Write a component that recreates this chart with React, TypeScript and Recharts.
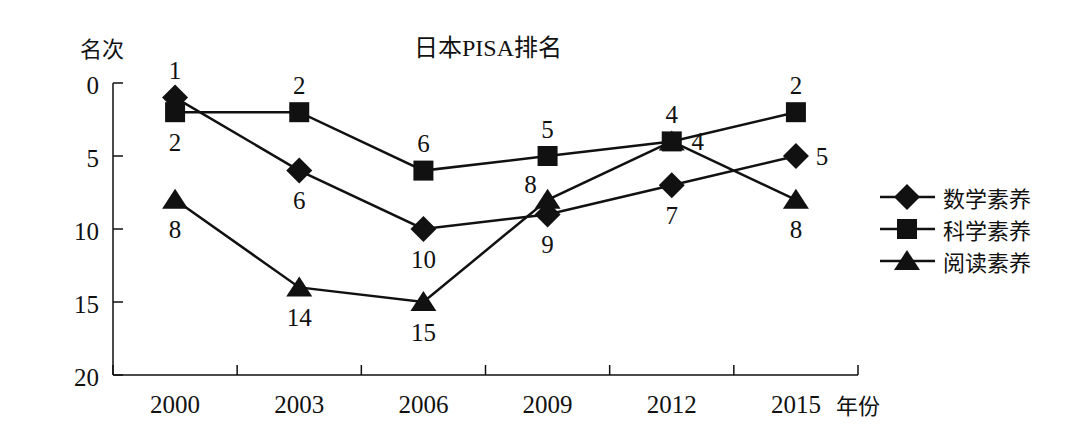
import { LineChart, Line, XAxis, YAxis, LabelList } from "recharts"

const years = ["2000", "2003", "2006", "2009", "2012", "2015"]
const mathRank = [1, 6, 10, 9, 7, 5]
const scienceRank = [2, 2, 6, 5, 4, 2]
const readingRank = [8, 14, 15, 8, 4, 8]
const rankTicks = [0, 5, 10, 15, 20]
const seriesNames = ["数学素养", "科学素养", "阅读素养"]

// where each value label sits relative to its point
const mathLabelPos = ["top", "bottom", "bottom", "bottom", "bottom", "right"]
const scienceLabelPos = ["bottom", "top", "top", "top", "top", "top"]
const readingLabelPos = ["bottom", "bottom", "bottom", "topleft", "right", "bottom"]

const data = years.map((year, i) => ({
  idx: i,
  year,
  math: mathRank[i],
  science: scienceRank[i],
  reading: readingRank[i],
}))

// category centres get labels, half steps get the tick marks between them
const xTicks = years.flatMap((_, i) => [i - 0.5, i]).concat(years.length - 0.5)

const INK = "#111"
const FONT = '"Liberation Serif", "Noto Sans CJK SC", serif'
const CJK = '"Noto Sans CJK SC", sans-serif'

const offsets: Record<string, [number, number]> = {
  top: [0, -27],
  bottom: [0, 30],
  right: [26, 0],
  topleft: [-17, -15],
}

function Diamond({ cx, cy }: any) {
  if (cx == null || cy == null) return null
  return <polygon points={`${cx},${cy - 13} ${cx + 13},${cy} ${cx},${cy + 13} ${cx - 13},${cy}`} fill={INK} />
}

function Square({ cx, cy }: any) {
  if (cx == null || cy == null) return null
  return <rect x={cx - 10} y={cy - 10} width={20} height={20} fill={INK} />
}

function Triangle({ cx, cy }: any) {
  if (cx == null || cy == null) return null
  return <polygon points={`${cx},${cy - 11} ${cx + 13},${cy + 9} ${cx - 13},${cy + 9}`} fill={INK} />
}

const numStyle = { fontFamily: FONT, fontSize: 25 }

const makeLabel = (positions: string[]) => (props: any) => {
  const { x, y, value, index } = props
  const [dx, dy] = offsets[positions[index]] || [0, -26]
  return (
    <text x={x + dx} y={y + dy} textAnchor="middle" dominantBaseline="central" style={numStyle} fill={INK}>
      {value}
    </text>
  )
}

function XTick({ x, y, payload }: any) {
  const v = payload.value
  if (Number.isInteger(v)) {
    return (
      <text x={x} y={y + 29} textAnchor="middle" dominantBaseline="central" style={numStyle} fill={INK}>
        {years[v]}
      </text>
    )
  }
  return <line x1={x} x2={x} y1={y} y2={y - 10} stroke={INK} strokeWidth={1.5} />
}

function YTick({ x, y, payload }: any) {
  return (
    <g>
      <line x1={x} x2={x + 10} y1={y} y2={y} stroke={INK} strokeWidth={1.5} />
      <text x={x - 14} y={y + 2} textAnchor="end" dominantBaseline="central" style={numStyle} fill={INK}>
        {payload.value}
      </text>
    </g>
  )
}

const markers = [Diamond, Square, Triangle]

function LegendBox() {
  return (
    <svg width={200} height={110} style={{ position: "absolute", left: 870, top: 170 }}>
      {seriesNames.map((name, i) => {
        const Marker = markers[i]
        const cy = 27 + i * 32
        return (
          <g key={name}>
            <line x1={10} x2={65} y1={cy} y2={cy} stroke={INK} strokeWidth={2.5} />
            <Marker cx={37} cy={cy} />
            <text x={73} y={cy} dominantBaseline="central" style={{ fontFamily: CJK, fontSize: 22 }} fill={INK}>
              {name}
            </text>
          </g>
        )
      })}
    </svg>
  )
}

export default function App() {
  return (
    <div style={{ position: "relative", width: 1080, height: 427, background: "#fff" }}>
      <style>{`body{margin:0}`}</style>
      <LineChart width={1080} height={427} data={data} margin={{ top: 83, right: 222, left: 53, bottom: 0 }}>
        <XAxis
          dataKey="idx"
          type="number"
          domain={[-0.5, years.length - 0.5]}
          ticks={xTicks}
          interval={0}
          height={52}
          tickSize={0}
          tickMargin={0}
          tickLine={false}
          tick={<XTick />}
          axisLine={{ stroke: INK, strokeWidth: 1.5 }}
        />
        <YAxis
          reversed
          domain={[0, 20]}
          ticks={rankTicks}
          interval={0}
          width={60}
          tickSize={0}
          tickMargin={0}
          tickLine={false}
          tick={<YTick />}
          axisLine={{ stroke: INK, strokeWidth: 1.5 }}
        />
        <Line dataKey="math" name={seriesNames[0]} stroke={INK} strokeWidth={2.5} dot={<Diamond />} isAnimationActive={false}>
          <LabelList dataKey="math" content={makeLabel(mathLabelPos)} />
        </Line>
        <Line dataKey="science" name={seriesNames[1]} stroke={INK} strokeWidth={2.5} dot={<Square />} isAnimationActive={false}>
          <LabelList dataKey="science" content={makeLabel(scienceLabelPos)} />
        </Line>
        <Line dataKey="reading" name={seriesNames[2]} stroke={INK} strokeWidth={2.5} dot={<Triangle />} isAnimationActive={false}>
          <LabelList dataKey="reading" content={makeLabel(readingLabelPos)} />
        </Line>
      </LineChart>
      <svg width={1080} height={427} style={{ position: "absolute", left: 0, top: 0, pointerEvents: "none" }}>
        <text x={488} y={48} textAnchor="middle" dominantBaseline="central" style={{ fontFamily: FONT, fontSize: 24 }} fill={INK}>
          日本PISA排名
        </text>
        <text x={80} y={47} dominantBaseline="central" style={{ fontFamily: CJK, fontSize: 22 }} fill={INK}>
          名次
        </text>
        <text x={836} y={404} dominantBaseline="central" style={{ fontFamily: CJK, fontSize: 22 }} fill={INK}>
          年份
        </text>
      </svg>
      <LegendBox />
    </div>
  )
}
